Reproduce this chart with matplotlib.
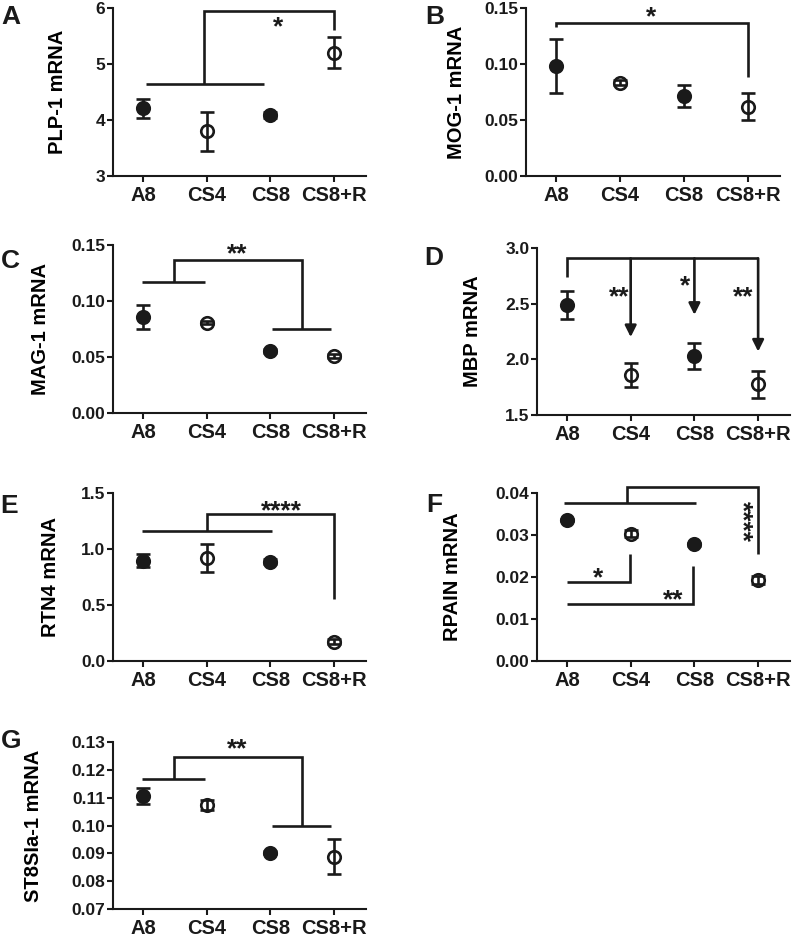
import matplotlib
matplotlib.use('Agg')
import matplotlib.pyplot as plt
import numpy as np

plt.rcParams['font.family'] = ['Liberation Sans', 'DejaVu Sans']
plt.rcParams['font.weight'] = 'bold'

groups = ['A8', 'CS4', 'CS8', 'CS8+R']
filled = [True, False, True, False]  # A8 / CS8 filled, CS4 / CS8+R open

# mean and error per panel
plp1 = [4.21, 3.80, 4.09, 5.20]
plp1_err = [0.17, 0.35, 0.05, 0.28]
mog1 = [0.0985, 0.0833, 0.0714, 0.0619]
mog1_err = [0.024, 0.002, 0.0102, 0.0120]
mag1 = [0.0854, 0.0806, 0.0554, 0.0509]
mag1_err = [0.0107, 0.0015, 0.0018, 0.0015]
mbp = [2.49, 1.86, 2.03, 1.775]
mbp_err = [0.125, 0.105, 0.12, 0.12]
rtn4 = [0.896, 0.917, 0.887, 0.172]
rtn4_err = [0.06, 0.125, 0.02, 0.02]
rpain = [0.0336, 0.0303, 0.0278, 0.0193]
rpain_err = [0.0003, 0.0008, 0.0003, 0.0009]
st8 = [0.1106, 0.1074, 0.0902, 0.0888]
st8_err = [0.0030, 0.0017, 0.0005, 0.0062]

W, H = 800, 936
fig = plt.figure(figsize=(8, 9.36), dpi=100)


def make_ax(l, r, top, bot):
    return fig.add_axes([l / W, 1 - bot / H, (r - l) / W, (bot - top) / H])


def panel(ax, vals, errs, ylim, yticks, yticklabels, ylabel, labx):
    x = np.arange(len(groups))
    for i in range(len(groups)):
        ax.errorbar(x[i], vals[i], yerr=errs[i], fmt='o', color='#1a1a1a',
                    ms=9, mfc='#1a1a1a' if filled[i] else 'none',
                    mec='#1a1a1a', mew=1.9, elinewidth=1.9, capsize=5,
                    capthick=1.9, zorder=3)
    ax.set_xlim(-0.47, 3.5)
    ax.set_ylim(*ylim)
    ax.set_xticks(x)
    ax.set_xticklabels(groups, fontsize=14.5, fontweight='bold')
    ax.set_yticks(yticks)
    ax.set_yticklabels(yticklabels, fontsize=12.5, fontweight='bold')
    ax.set_ylabel(ylabel, fontsize=14.5, fontweight='bold')
    ax.yaxis.set_label_coords(labx, 0.5)
    ax.spines['top'].set_visible(False)
    ax.spines['right'].set_visible(False)
    for s in ['left', 'bottom']:
        ax.spines[s].set_linewidth(1.5)
        ax.spines[s].set_color('#1a1a1a')
    ax.tick_params(axis='y', length=4, width=1.5, pad=1.5, colors='#1a1a1a')
    ax.tick_params(axis='x', length=4, width=1.5, pad=3, colors='#1a1a1a')


def line(ax, xs, ys):
    ax.plot(xs, ys, color='#1a1a1a', lw=1.9, clip_on=False, zorder=2,
            solid_capstyle='butt', solid_joinstyle='miter')


def star(ax, x, y, s, rot=0):
    ax.text(x, y, s, ha='center', va='center', fontsize=19,
            fontweight='bold', rotation=rot, color='#1a1a1a')


# A
ax = make_ax(113, 366, 8, 176)
panel(ax, plp1, plp1_err, (3, 6), [3, 4, 5, 6], ['3', '4', '5', '6'],
      'PLP-1 mRNA', -0.182)
line(ax, [0.05, 1.9], [4.64, 4.64])
line(ax, [0.96, 0.96, 3.0, 3.0], [4.64, 5.94, 5.94, 5.6])
star(ax, 2.12, 5.66, '*')

# B
ax = make_ax(526, 780, 8, 176)
panel(ax, mog1, mog1_err, (0, 0.15), [0, 0.05, 0.10, 0.15],
      ['0.00', '0.05', '0.10', '0.15'], 'MOG-1 mRNA', -0.236)
line(ax, [0, 0, 3.0, 3.0], [0.133, 0.137, 0.137, 0.0887])
star(ax, 1.48, 0.1415, '*')

# C
ax = make_ax(113, 366, 245, 413)
panel(ax, mag1, mag1_err, (0, 0.15), [0, 0.05, 0.10, 0.15],
      ['0.00', '0.05', '0.10', '0.15'], 'MAG-1 mRNA', -0.249)
line(ax, [-0.02, 0.97], [0.1167, 0.1167])
line(ax, [0.49, 0.49, 2.5, 2.5], [0.1167, 0.137, 0.137, 0.075])
line(ax, [2.02, 2.95], [0.075, 0.075])
star(ax, 1.48, 0.1415, '**')

# D
ax = make_ax(537, 790, 248, 415)
panel(ax, mbp, mbp_err, (1.5, 3.0), [1.5, 2.0, 2.5, 3.0],
      ['1.5', '2.0', '2.5', '3.0'], 'MBP mRNA', -0.217)
line(ax, [0, 0, 3.0], [2.74, 2.907, 2.907])
for xa, ye in [(1, 2.2), (2, 2.40), (3, 2.07)]:
    ax.annotate('', xy=(xa, ye), xytext=(xa, 2.907),
                arrowprops=dict(arrowstyle='-|>', lw=1.9, color='#1a1a1a',
                                mutation_scale=17, shrinkA=0, shrinkB=0))
star(ax, 0.82, 2.56, '**')
star(ax, 1.85, 2.66, '*')
star(ax, 2.76, 2.56, '**')

# E
ax = make_ax(113, 366, 493, 661)
panel(ax, rtn4, rtn4_err, (0, 1.5), [0, 0.5, 1.0, 1.5],
      ['0.0', '0.5', '1.0', '1.5'], 'RTN4 mRNA', -0.209)
line(ax, [-0.02, 2.02], [1.163, 1.163])
line(ax, [1.0, 1.0, 3.0, 3.0], [1.163, 1.31, 1.31, 0.55])
star(ax, 2.18, 1.34, '****')

# F
ax = make_ax(537, 790, 493, 661)
panel(ax, rpain, rpain_err, (0, 0.04), [0, 0.01, 0.02, 0.03, 0.04],
      ['0.00', '0.01', '0.02', '0.03', '0.04'], 'RPAIN mRNA', -0.296)
line(ax, [-0.05, 2.03], [0.0377, 0.0377])
line(ax, [0.94, 0.94, 3.0, 3.0], [0.0377, 0.0414, 0.0414, 0.0255])
star(ax, 2.74, 0.0333, '****', rot=270)
line(ax, [0.0, 0.99, 0.99], [0.0188, 0.0188, 0.0255])
star(ax, 0.49, 0.0196, '*')
line(ax, [0.0, 1.98, 1.98], [0.0135, 0.0135, 0.0226])
star(ax, 1.67, 0.0145, '**')

# G
ax = make_ax(113, 366, 742, 909)
panel(ax, st8, st8_err, (0.07, 0.13),
      [0.07, 0.08, 0.09, 0.10, 0.11, 0.12, 0.13],
      ['0.07', '0.08', '0.09', '0.10', '0.11', '0.12', '0.13'],
      'ST8SIa-1 mRNA', -0.277)
line(ax, [-0.02, 0.97], [0.1167, 0.1167])
line(ax, [0.49, 0.49, 2.5, 2.5], [0.1167, 0.1247, 0.1247, 0.0998])
line(ax, [2.02, 2.95], [0.0998, 0.0998])
star(ax, 1.48, 0.1272, '**')

# panel letters
for lab, px, py in [('A', 11, 17), ('B', 435, 17), ('C', 10, 261),
                    ('D', 434, 258), ('E', 9, 506), ('F', 434, 505),
                    ('G', 11, 741)]:
    fig.text(px / W, 1 - py / H, lab, fontsize=19, fontweight='bold',
             ha='center', va='center', color='#1a1a1a')

fig.savefig('out.png', dpi=100)
